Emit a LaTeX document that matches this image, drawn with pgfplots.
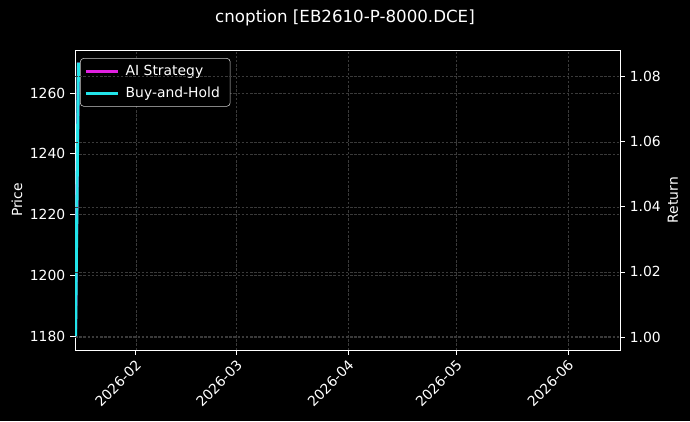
\documentclass[border=0pt]{standalone}
\usepackage{fontspec}
\setmainfont{DejaVu Sans}
\usepackage{pgfplots}
\pgfplotsset{compat=1.18}
\definecolor{aimag}{HTML}{E020E0}
\definecolor{bhcyan}{HTML}{22E4EA}
\definecolor{gridc}{HTML}{3A3A3A}
\definecolor{legedge}{HTML}{CCCCCC}
\begin{document}
\begin{tikzpicture}[x=1pt,y=1pt]
\fill[black] (0,0) rectangle (496.8,303.12);
\pgfplotsset{
  mystyle/.style={
    at={(54pt,51.12pt)}, anchor=south west, scale only axis,
    width=392.4pt, height=216pt,
    xmin=14.1, xmax=165.4,
    axis line style={white, line width=0.6pt},
    tick style={white, line width=0.6pt},
    tick align=outside, major tick length=3.5pt,
    ticklabel style={text=white, font=\fontsize{10}{12}\selectfont},
    /pgf/number format/assume math mode=true,
    grid style={gridc, dash pattern=on 1.8pt off 1.2pt, line width=0.35pt},
  }
}
\begin{axis}[mystyle,
  ymin=1175.39, ymax=1274.16,
  xtick={31,59,90,120,151},
  xticklabels={2026-02,2026-03,2026-04,2026-05,2026-06},
  xtick pos=lower, ytick pos=left,
  ytick={1180,1200,1220,1240,1260},
  yticklabel style={/pgf/number format/1000 sep={}},
  xticklabel style={rotate=45, anchor=north east, inner sep=1.5pt, xshift=-1pt},
  xmajorgrids, ymajorgrids,
  legend style={at={(0.0092,0.973)}, anchor=north west, fill=black, draw=legedge,
    rounded corners=2.5pt, text=white, font=\fontsize{10}{12}\selectfont,
    row sep=2.5pt, inner xsep=3pt, inner ysep=3pt,
    nodes={inner xsep=4.5pt}},
  legend cell align=left,
  legend image code/.code={\draw[#1, line width=2.2pt] (0pt,0pt) -- (23pt,0pt);},
]
\addplot[aimag, line width=2pt] coordinates {(14.25,1180) (15.05,1270)};
\addlegendentry{AI Strategy}
\addplot[bhcyan, line width=2.2pt] coordinates {(14.25,1180) (15.05,1270)};
\addlegendentry{Buy-and-Hold}
\end{axis}
\begin{axis}[mystyle,
  ymin=0.99600, ymax=1.08821,
  axis x line=none, axis y line*=right,
  ytick={1.00,1.02,1.04,1.06,1.08},
  yticklabel style={/pgf/number format/.cd, fixed, fixed zerofill, precision=2},
  ymajorgrids,
]
\addplot[draw=none] coordinates {(14.25,1.0) (15.05,1.0)};
\end{axis}
\node[white, font=\fontsize{12}{14}\selectfont] at (248.4,290.16) {cnoption [EB2610-P-8000.DCE]};
\node[white, rotate=90, font=\fontsize{10}{12}\selectfont] at (12.24,159.12) {Price};
\node[white, rotate=90, font=\fontsize{10}{12}\selectfont] at (484.56,159.12) {Return};
\pgfresetboundingbox
\path (0,0) rectangle (496.8,303.12);
\end{tikzpicture}
\end{document}
